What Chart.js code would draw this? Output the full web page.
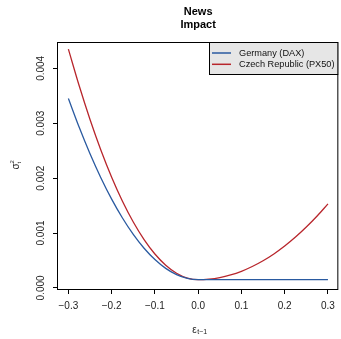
<!DOCTYPE html>
<html>
<head>
<meta charset="utf-8">
<script src="https://cdn.jsdelivr.net/npm/chart.js@4.4.1/dist/chart.umd.min.js"></script>
<style>
  html, body { margin: 0; padding: 0; background: #fff; }
  #wrap { width: 341px; height: 339px; }
</style>
</head>
<body>
<div id="wrap"><canvas id="newsChart"></canvas></div>
<script>
// shocks eps_{t-1}
const shocks = [-0.3, -0.275, -0.25, -0.225, -0.2, -0.175, -0.15, -0.125, -0.1, -0.075, -0.05, -0.025, 0,
  0.025, 0.05, 0.075, 0.1, 0.125, 0.15, 0.175, 0.2, 0.225, 0.25, 0.275, 0.3];
// conditional variance
const dax = [0.00345, 0.002925, 0.002444, 0.002008, 0.001618, 0.001274, 0.000976, 0.000723, 0.000517, 0.000356, 0.000242, 0.000173, 0.00015,
  0.00015, 0.00015, 0.00015, 0.00015, 0.00015, 0.00015, 0.00015, 0.00015, 0.00015, 0.00015, 0.00015, 0.00015];
const px50 = [0.00435, 0.003682, 0.003069, 0.002514, 0.002018, 0.00158, 0.001201, 0.00088, 0.000617, 0.000413, 0.000267, 0.000179, 0.00015,
  0.00016, 0.000188, 0.000236, 0.000303, 0.00039, 0.000495, 0.000619, 0.000763, 0.000926, 0.001108, 0.001309, 0.00153];
const seriesNames = ["Germany (DAX)", "Czech Republic (PX50)"];
const seriesColors = ["#2a5aa0", "#b8262c"];
const xTicks = ["\u22120.3", "\u22120.2", "\u22120.1", "0.0", "0.1", "0.2", "0.3"];
const yTicks = ["0.000", "0.001", "0.002", "0.003", "0.004"];

const FONT = "'Liberation Sans', Arial, Helvetica, sans-serif";

function pts(ys) {
  return shocks.map((x, i) => ({ x: x, y: ys[i] }));
}

// box round the plot region, like R's box()
const frame = {
  id: 'frame',
  afterDraw(chart) {
    const a = chart.chartArea, ctx = chart.ctx;
    ctx.save();
    ctx.strokeStyle = '#000';
    ctx.lineWidth = 1;
    ctx.strokeRect(a.left - 0.5, a.top + 0.5, a.right - a.left, a.bottom - a.top);
    ctx.restore();
  }
};

// rotated y tick labels + axis titles
const labels = {
  id: 'labels',
  afterDraw(chart) {
    const ctx = chart.ctx, ys = chart.scales.y, a = chart.chartArea;
    ctx.save();
    ctx.fillStyle = '#222';
    ctx.font = '10px ' + FONT;
    ctx.textAlign = 'center';
    ctx.textBaseline = 'middle';
    ys.ticks.forEach((t, i) => {
      const py = ys.getPixelForValue(t.value);
      ctx.save();
      ctx.translate(41, py);
      ctx.rotate(-Math.PI / 2);
      ctx.fillText(yTicks[i], 0, 0);
      ctx.restore();
    });

    // y title: sigma^2_t
    const cy = (a.top + a.bottom) / 2;
    ctx.save();
    ctx.translate(16, cy);
    ctx.rotate(-Math.PI / 2);
    ctx.textAlign = 'left';
    ctx.font = '10px ' + FONT;
    ctx.fillText('\u03c3', -4, 0);
    ctx.font = '6px ' + FONT;
    ctx.fillText('2', 2, -4);
    ctx.fillText('t', 2, 3);
    ctx.restore();

    // x title: eps_{t-1}
    const cx = (a.left + a.right) / 2;
    ctx.textAlign = 'left';
    ctx.font = '10px ' + FONT;
    ctx.fillText('\u03b5', cx - 6, 330);
    ctx.font = '7px ' + FONT;
    ctx.fillText('t\u22121', cx - 1, 332.5);
    ctx.restore();
  }
};

// legend box in the top right corner
const legendBox = {
  id: 'legendBox',
  afterDraw(chart) {
    const a = chart.chartArea, ctx = chart.ctx;
    const x0 = 209, y0 = a.top, w = a.right - x0, h = 32;
    ctx.save();
    ctx.fillStyle = '#e6e6e6';
    ctx.fillRect(x0, y0, w, h);
    ctx.strokeStyle = '#000';
    ctx.lineWidth = 1;
    ctx.strokeRect(x0 + 0.5, y0 + 0.5, w - 1, h);
    ctx.font = '9.2px ' + FONT;
    ctx.textBaseline = 'middle';
    ctx.textAlign = 'left';
    seriesNames.forEach((name, i) => {
      const ly = y0 + 11 + i * 11.3;
      ctx.strokeStyle = seriesColors[i];
      ctx.lineWidth = 1.5;
      ctx.beginPath();
      ctx.moveTo(212, ly);
      ctx.lineTo(231, ly);
      ctx.stroke();
      ctx.fillStyle = '#111';
      ctx.fillText(name, 239, ly);
    });
    ctx.restore();
  }
};

new Chart(document.getElementById('newsChart'), {
  type: 'line',
  data: {
    datasets: [
      { label: seriesNames[0], data: pts(dax), borderColor: seriesColors[0], borderWidth: 1.3, pointRadius: 0, cubicInterpolationMode: 'monotone', fill: false },
      { label: seriesNames[1], data: pts(px50), borderColor: seriesColors[1], borderWidth: 1.3, pointRadius: 0, cubicInterpolationMode: 'monotone', fill: false }
    ]
  },
  options: {
    responsive: true,
    maintainAspectRatio: false,
    animation: false,
    layout: { padding: { left: 0, right: 1, top: 0, bottom: 0 } },
    plugins: {
      legend: { display: false },
      tooltip: { enabled: false },
      title: {
        display: true,
        fullSize: false,
        text: ['News', 'Impact'],
        color: '#000',
        font: { family: FONT, size: 11, weight: 'bold', lineHeight: 1.2 },
        padding: { top: 5, bottom: 10.6 }
      }
    },
    scales: {
      x: {
        type: 'linear',
        min: -0.324,
        max: 0.324,
        afterFit(s) { s.height = 50; },
        border: { display: false },
        grid: { drawOnChartArea: false, drawTicks: true, tickLength: 5, color: '#000' },
        ticks: {
          stepSize: 0.1,
          includeBounds: false,
          padding: 6,
          color: '#222',
          maxRotation: 0,
          autoSkip: false,
          font: { family: FONT, size: 10 },
          callback: (v, i) => xTicks[i]
        }
      },
      y: {
        min: -0.00002,
        max: 0.00448,
        afterFit(s) { s.width = 58; },
        border: { display: false },
        grid: { drawOnChartArea: false, drawTicks: true, tickLength: 5, color: '#000' },
        ticks: {
          stepSize: 0.001,
          includeBounds: false,
          display: false
        }
      }
    }
  },
  plugins: [frame, labels, legendBox]
});
</script>
</body>
</html>
